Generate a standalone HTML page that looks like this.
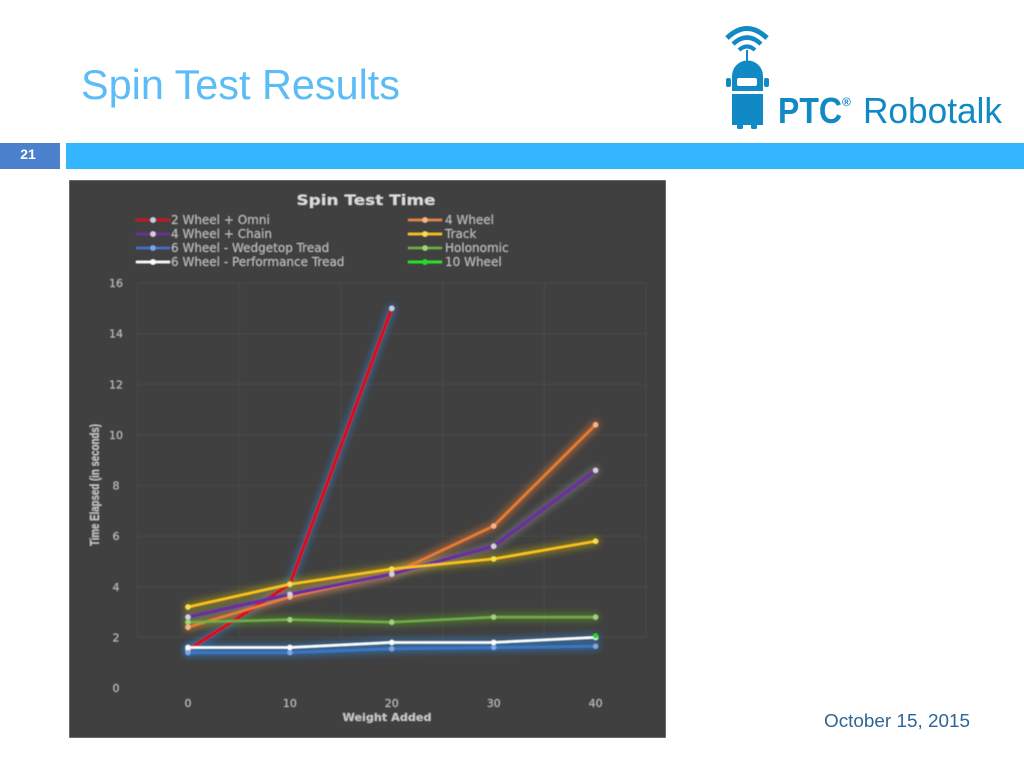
<!DOCTYPE html>
<html lang="en">
<head>
<meta charset="utf-8">
<title>Spin Test Results</title>
<style>
html,body{margin:0;padding:0;background:#fff;width:1024px;height:768px;overflow:hidden}
svg{display:block}
text{font-family:"Liberation Sans",sans-serif}
.dj{font-family:"DejaVu Sans",sans-serif}
</style>
</head>
<body>
<svg id="slide" width="1024" height="768" viewBox="0 0 1024 768" xmlns="http://www.w3.org/2000/svg">
  <defs>
    <filter id="glow" x="69" y="180" width="597" height="558" filterUnits="userSpaceOnUse"><feGaussianBlur stdDeviation="3.2"/></filter>
    <filter id="soft" x="0" y="0" width="100%" height="100%"><feGaussianBlur stdDeviation="0.45"/></filter>
  </defs>
  <rect width="1024" height="768" fill="#ffffff"/>
  <text x="81" y="99" font-size="42" fill="#5cbdf6" textLength="319" lengthAdjust="spacingAndGlyphs">Spin Test Results</text>
  <rect x="0" y="143" width="60" height="26" fill="#4a80cc"/>
  <text x="28" y="159" font-size="14" font-weight="bold" fill="#ffffff" text-anchor="middle">21</text>
  <rect x="66" y="143" width="958" height="26" fill="#33b5ff"/>

  <g id="logo" fill="#1189c5">
    <g fill="none" stroke="#1189c5" stroke-linecap="butt">
      <path d="M727 38 Q747 19 767 38" stroke-width="5"/>
      <path d="M733 44 Q747 31 761 44" stroke-width="4.5"/>
      <path d="M739 50 Q747 43 755 50" stroke-width="4"/>
    </g>
    <rect x="746" y="50" width="2" height="11"/>
    <path d="M732 91 V76 A15.5 15.5 0 0 1 763 76 V91 Z"/>
    <rect x="726" y="78" width="5" height="9" rx="2"/>
    <rect x="764" y="78" width="5" height="9" rx="2"/>
    <rect x="737" y="78" width="20" height="8" rx="2" fill="#ffffff"/>
    <rect x="732" y="94" width="31" height="31"/>
    <rect x="737" y="124" width="6" height="5" rx="1.5"/>
    <rect x="751" y="124" width="6" height="5" rx="1.5"/>
    <text x="778" y="123" font-size="36" font-weight="bold" textLength="64" lengthAdjust="spacingAndGlyphs">PTC</text>
    <text x="842" y="106" font-size="12" font-weight="bold">®</text>
    <text x="863" y="123" font-size="36" textLength="139" lengthAdjust="spacingAndGlyphs">Robotalk</text>
  </g>

  <text x="824" y="727" font-size="18" fill="#2f6596" textLength="146" lengthAdjust="spacingAndGlyphs">October 15, 2015</text>

  <g id="chart" filter="url(#soft)">
    <rect x="69" y="180" width="597" height="558" fill="#404040"/>
    <g id="grid"></g>
    <g id="glows"></g>
    <g id="series"></g>
    <g id="yticks"></g>
    <g id="xticks"></g>
    <g id="legend"></g>
    <text x="366" y="205" class="dj" font-size="14.5" font-weight="bold" fill="#dcdcdc" text-anchor="middle" textLength="139" lengthAdjust="spacingAndGlyphs">Spin Test Time</text>
    <text x="387" y="721" class="dj" font-size="11" font-weight="bold" fill="#c8c8c8" text-anchor="middle" textLength="89" lengthAdjust="spacingAndGlyphs">Weight Added</text>
    <text transform="translate(99 485) rotate(-90)" font-size="13" font-weight="bold" fill="#c8c8c8" text-anchor="middle" textLength="122" lengthAdjust="spacingAndGlyphs">Time Elapsed (in seconds)</text>
  </g>
</svg>
<script>
var categories = [0, 10, 20, 30, 40];
var yTickLabels = [0, 2, 4, 6, 8, 10, 12, 14, 16];
var omniValues = [1.5, 4.1, 15, null, null];
var fourWheelValues = [2.4, 3.6, 4.5, 6.4, 10.4];
var chainValues = [2.8, 3.7, 4.5, 5.6, 8.6];
var trackValues = [3.2, 4.1, 4.7, 5.1, 5.8];
var wedgetopValues = [1.4, 1.4, 1.55, 1.6, 1.65];
var holonomicValues = [2.6, 2.7, 2.6, 2.8, 2.8];
var performanceValues = [1.6, 1.6, 1.8, 1.8, 2.0];
var tenWheelValues = [null, null, null, null, 2.05];
var seriesNames = ['2 Wheel + Omni', '4 Wheel', '4 Wheel + Chain', 'Track', '6 Wheel - Wedgetop Tread', 'Holonomic', '6 Wheel - Performance Tread', '10 Wheel'];

var NS = 'http://www.w3.org/2000/svg';
var plot = {left: 137.5, right: 646, top: 283, bottom: 688, x0: 188, xStep: 101.9};
function xScale(v) { return plot.x0 + (v - categories[0]) / (categories[1] - categories[0]) * plot.xStep; }
function yScale(v) { return plot.bottom - v / 16 * (plot.bottom - plot.top); }
function make(tag, attrs, parent) {
  var el = document.createElementNS(NS, tag);
  for (var k in attrs) el.setAttribute(k, attrs[k]);
  parent.appendChild(el);
  return el;
}
var gridG = document.getElementById('grid');
var i;
yTickLabels.forEach(function (t) {
  if (t < 2) return;
  var l = make('line', {x1: plot.left, x2: plot.right, y1: yScale(t), y2: yScale(t), stroke: '#4a4a4a', 'stroke-width': 1}, gridG);
  
  
});
for (i = 0; i < 6; i++) {
  var vx = plot.left + i * (plot.right - plot.left) / 5;
  var vl = make('line', {x1: vx, x2: vx, y1: plot.top, y2: plot.bottom - 50, stroke: '#4a4a4a', 'stroke-width': 1}, gridG);
  
  
}
var yG = document.getElementById('yticks');
yTickLabels.forEach(function (t) {
  var tx = make('text', {x: 116, y: yScale(t) + 4, 'font-size': 11, fill: '#bdbdbd', 'text-anchor': 'middle', 'class': 'dj'}, yG);
  
  
  tx.textContent = t;
});
var xG = document.getElementById('xticks');
categories.forEach(function (c) {
  var tx = make('text', {x: xScale(c), y: 707, 'font-size': 11, fill: '#bdbdbd', 'text-anchor': 'middle', 'class': 'dj'}, xG);
  
  
  tx.textContent = c;
});

var seriesList = [
  {v: omniValues, c: '#d4101c', g: '#2f86d8', m: '#bcd3ea', w: 3.5, lg: '#d4101c'},
  {v: fourWheelValues, c: '#ed7d31', g: '#ed7d31', m: '#f8b58c', w: 2.5, lg: '#e08a4a'},
  {v: chainValues, c: '#6a2f9e', g: '#8f8f8f', m: '#d8cfdc', w: 3.5, lg: '#6a2f9e'},
  {v: trackValues, c: '#ffc31a', g: '#c8b400', m: '#f6e050', w: 2.5, lg: '#ffc31a'},
  {v: wedgetopValues, c: '#3d74c4', g: '#2f86d8', m: '#7ea6e6', w: 3, lg: '#4472c4'},
  {v: holonomicValues, c: '#70ad47', g: '#5aa020', m: '#a4d27c', w: 2.5, lg: '#70ad47'},
  {v: performanceValues, c: '#ffffff', g: '#2f86d8', m: '#ffffff', w: 2.5, lg: '#ffffff'},
  {v: tenWheelValues, c: '#22dd22', g: '#22dd22', m: '#22dd22', w: 3, lg: '#22ee22'}
];
var glowG = document.getElementById('glows');
var serG = document.getElementById('series');
function pointsOf(values) {
  var pts = [];
  values.forEach(function (v, idx) {
    if (v !== null) pts.push(xScale(categories[idx]) + ',' + yScale(v));
  });
  return pts.join(' ');
}
seriesList.forEach(function (s) {
  var gl = make('polyline', {points: pointsOf(s.v), fill: 'none', stroke: s.g, 'stroke-width': 9, 'stroke-opacity': 0.45, 'stroke-linejoin': 'round', 'stroke-linecap': 'round', filter: 'url(#glow)'}, glowG);
  
  
});
seriesList.forEach(function (s) {
  var pl = make('polyline', {points: pointsOf(s.v), fill: 'none', stroke: s.c, 'stroke-width': s.w, 'stroke-linejoin': 'round'}, serG);
  
  
  s.v.forEach(function (v, idx) {
    if (v === null) return;
    var pt = make('circle', {cx: xScale(categories[idx]), cy: yScale(v), r: 2.7, fill: s.m}, serG);
    
    
  });
});

var legG = document.getElementById('legend');
seriesNames.forEach(function (name, idx) {
  var col = idx % 2;
  var row = Math.floor(idx / 2);
  var lx = col ? 408 : 136;
  var ly = 220 + row * 14;
  var s = seriesList[idx];
  var ll = make('line', {x1: lx, x2: lx + 34, y1: ly, y2: ly, stroke: s.lg, 'stroke-width': 2.5}, legG);
  
  
  var lc = make('circle', {cx: lx + 17, cy: ly, r: 2.8, fill: s.m}, legG);
  
  
  var lt = make('text', {x: lx + (col ? 37 : 35), y: ly + 4, 'font-size': 12, fill: '#bdbdbd', 'class': 'dj'}, legG);
  
  
  lt.textContent = name;
});
</script>
</body>
</html>
